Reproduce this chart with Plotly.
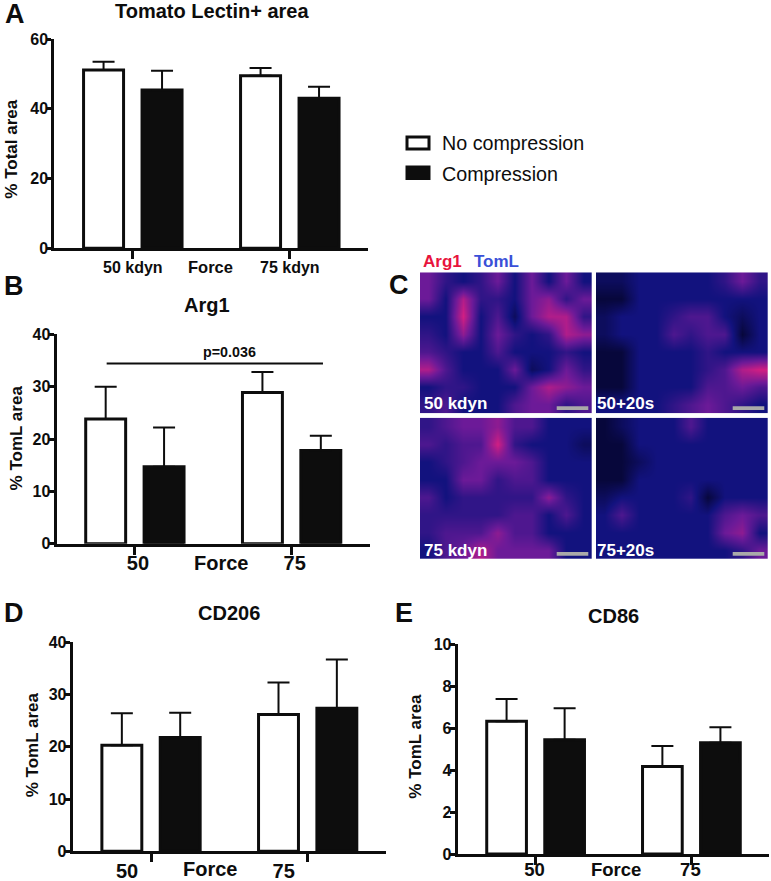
import plotly.graph_objects as go

W, H = 771, 881
FONT = "Liberation Sans"

series_names = ["No compression", "Compression"]
groups = [1, 2]

a_means = [[51.1, 49.5], [45.4, 43.0]]
a_errs = [[2.4, 2.2], [5.5, 3.3]]
a_ticks = ["50 kdyn", "75 kdyn"]

b_means = [[23.8, 28.9], [14.7, 17.8]]
b_errs = [[6.2, 3.9], [7.5, 2.8]]
num_ticks = ["50", "75"]

d_means = [[20.3, 26.2], [21.8, 27.4]]
d_errs = [[6.1, 6.1], [4.7, 9.3]]

e_means = [[6.33, 4.17], [5.45, 5.31]]
e_errs = [[1.06, 0.98], [1.5, 0.73]]

p_line_x = [0.82, 2.2]
p_line_y = [34.4, 34.4]

# Rough per-cell Arg1/TomL signal read from the micrographs (0 dark, 3 blue, 6 purple, 10 pink)
c_50 = [[6,4,3,4,6,3,6,3,6,3],[6,3,8,4,4,3,6,7,4,6],[3,3,9,3,5,2,6,8,8,4],[4,3,7,3,6,4,3,4,8,7],
        [5,4,3,3,5,3,3,3,4,3],[8,5,3,3,3,6,2,3,6,4],[3,4,4,3,3,3,6,8,7,6],[4,5,3,3,3,5,6,6,4,5]]
c_50s = [[2,2,3,3,3,3,3,4,6,4],[1,1,3,3,3,3,3,3,3,3],[2,3,3,3,4,5,5,3,2,3],[2,3,3,3,5,4,5,5,1,3],
         [1,1,3,3,3,3,4,3,3,3],[1,1,3,3,3,3,4,5,8,9],[1,1,3,3,3,3,5,5,6,5],[3,3,3,3,4,5,6,5,4,3]]
c_75 = [[4,5,6,6,7,5,5,3,3,3],[5,4,5,5,9,4,3,3,3,2],[3,4,5,6,6,6,5,3,3,3],[3,3,6,6,4,5,5,3,3,3],
        [5,3,4,4,4,4,4,7,4,3],[4,4,4,4,4,5,5,3,5,3],[4,5,5,5,7,5,5,3,3,3],[3,5,6,8,6,6,6,6,3,3]]
c_75s = [[1,2,3,3,3,5,3,3,3,3],[1,1,3,3,3,3,3,3,3,3],[1,1,2,3,3,3,3,3,3,3],[1,1,3,3,3,3,3,3,3,3],
         [2,3,3,3,3,4,1,3,3,3],[3,5,3,3,3,3,3,5,6,5],[3,3,3,3,3,3,3,6,7,3],[3,3,3,3,3,3,3,3,4,6]]

def px(x): return x / W
def py(y): return 1 - y / H

fig = go.Figure()
BLACK = "#0d0d0d"

panels = [
    dict(ax="", means=a_means, errs=a_errs, ticks=a_ticks, box=(54.3, 368.3, 39, 248.3), yr=[0, 60], dt=20, size=16, shift=0, off=-6),
    dict(ax="2", means=b_means, errs=b_errs, ticks=num_ticks, box=(56.5, 370, 334.3, 543.7), yr=[0, 40], dt=10, size=20, shift=3, off=-9),
    dict(ax="3", means=d_means, errs=d_errs, ticks=num_ticks, box=(72.7, 386, 642.3, 851.3), yr=[0, 40], dt=10, size=20, shift=-24, off=-8),
    dict(ax="4", means=e_means, errs=e_errs, ticks=num_ticks, box=(457.7, 769.3, 644.3, 854), yr=[0, 10], dt=2, size=18.5, shift=-1, off=-11),
]

layout = {}
for p in panels:
    for j, name in enumerate(series_names):
        fig.add_trace(go.Bar(
            x=groups, y=p["means"][j], name=name, xaxis="x" + p["ax"], yaxis="y" + p["ax"],
            marker=dict(color="white" if j == 0 else BLACK, line=dict(color=BLACK, width=3)),
            error_y=dict(type="data", symmetric=False, array=p["errs"][j], arrayminus=[0, 0],
                         color=BLACK, thickness=2, width=11),
            showlegend=False, cliponaxis=False, offsetgroup=str(j),
        ))
    x0, x1, yt, yb = p["box"]
    layout["xaxis" + p["ax"]] = dict(
        domain=[px(x0), px(x1)], range=[0.5, 2.5], anchor="y" + p["ax"],
        tickmode="array", tickvals=groups, ticktext=p["ticks"], ticks="outside", ticklen=8, tickwidth=3,
        tickcolor=BLACK, showline=True, linecolor=BLACK, linewidth=3, showgrid=False, zeroline=False,
        tickfont=dict(family=FONT, size=p["size"], color=BLACK, weight=700),
        ticklabelshift=p["shift"], ticklabelstandoff=p["off"],
    )
    layout["yaxis" + p["ax"]] = dict(
        domain=[py(yb), py(yt)], range=p["yr"], anchor="x" + p["ax"], dtick=p["dt"], tick0=0,
        ticks="outside", ticklen=5, tickwidth=3, tickcolor=BLACK, showline=True, linecolor=BLACK, linewidth=3,
        showgrid=False, zeroline=False, tickfont=dict(family=FONT, size=16, color=BLACK, weight=700),
        ticklabelstandoff=-5,
    )

fig.add_trace(go.Scatter(x=p_line_x, y=p_line_y, mode="lines", xaxis="x2", yaxis="y2",
                         line=dict(color=BLACK, width=2), showlegend=False))

# Panel C
scale = [[0, "#02021a"], [0.3, "#12127e"], [0.6, "#6c1a98"], [1, "#f5207c"]]
images = [
    (c_50, (420, 591.7, 272.3, 413.3), "5"),
    (c_50s, (596, 767.7, 272.3, 413.3), "6"),
    (c_75, (420, 591.7, 417.7, 559), "7"),
    (c_75s, (596, 767.7, 417.7, 559), "8"),
]
shapes = []
for z, (x0, x1, yt, yb), ax in images:
    fig.add_trace(go.Heatmap(z=z, xaxis="x" + ax, yaxis="y" + ax, colorscale=scale, zmin=0, zmax=10,
                             zsmooth="best", showscale=False, hoverinfo="skip"))
    layout["xaxis" + ax] = dict(domain=[px(x0), px(x1)], anchor="y" + ax, visible=False, range=[-0.5, 9.5])
    layout["yaxis" + ax] = dict(domain=[py(yb), py(yt)], anchor="x" + ax, visible=False, range=[7.5, -0.5])
    shapes.append(dict(type="rect", xref="paper", yref="paper", x0=px(x1 - 35), x1=px(x1 - 3.4),
                       y0=py(yb - 3.2), y1=py(yb - 7), fillcolor="#a9a9a9", line=dict(width=0)))

# Legend key
shapes.append(dict(type="rect", xref="paper", yref="paper", x0=px(407), x1=px(429), y0=py(149), y1=py(137),
                   fillcolor="white", line=dict(color=BLACK, width=3)))
shapes.append(dict(type="rect", xref="paper", yref="paper", x0=px(405.5), x1=px(430.5), y0=py(180), y1=py(165.5),
                   fillcolor=BLACK, line=dict(width=0)))

def note(text, x, y, size, bold=True, color=BLACK, anchor="center", angle=0):
    if anchor == "left":
        x -= 2
    return dict(text=f"<b>{text}</b>" if bold else text, x=px(x), y=py(y), xref="paper", yref="paper",
                showarrow=False, xanchor=anchor, yanchor="middle", textangle=angle,
                font=dict(family=FONT, size=size, color=color))

ann = [
    note("A", 4.5, 14, 27, anchor="left"), note("B", 4, 286, 27, anchor="left"), note("C", 389, 285, 27, anchor="left"),
    note("D", 4, 612.7, 27, anchor="left"), note("E", 395, 612.7, 27, anchor="left"),
    note("Tomato Lectin+ area", 212, 11.5, 20), note("Arg1", 207, 305, 20),
    note("CD206", 229, 612.7, 20), note("CD86", 613, 615.7, 20),
    note("% Total area", 10.7, 149, 17, angle=-90), note("% TomL area", 16.7, 437.7, 17, angle=-90),
    note("% TomL area", 32.3, 745, 17, angle=-90), note("% TomL area", 416, 746.7, 17, angle=-90),
    note("Force", 210.7, 267, 16.5), note("Force", 221, 563, 20), note("Force", 210, 868.5, 20), note("Force", 615.5, 869.5, 18.5),
    note("p=0.036", 229.7, 351.7, 14.3),
    note("No compression", 442, 143.5, 19.7, bold=False, anchor="left"),
    note("Compression", 442, 173.5, 19.7, bold=False, anchor="left"),
    note("Arg1", 422.7, 261.7, 17, color="#e8143c", anchor="left"),
    note("TomL", 474, 261.7, 17, color="#3a50d8", anchor="left"),
    note("50 kdyn", 424.3, 403, 17, color="white", anchor="left"),
    note("50+20s", 597.3, 403, 17, color="white", anchor="left"),
    note("75 kdyn", 424.3, 550.7, 17, color="white", anchor="left"),
    note("75+20s", 597.3, 550.7, 17, color="white", anchor="left"),
]

fig.update_layout(
    width=W, height=H, margin=dict(l=0, r=0, t=0, b=0, autoexpand=False), paper_bgcolor="white", plot_bgcolor="white",
    barmode="group", bargap=0.255, bargroupgap=0.316, showlegend=False,
    annotations=ann, shapes=shapes, **layout,
)

fig.write_html("out.html", config=dict(displayModeBar=False),
               post_script="document.body.style.margin='0';document.documentElement.style.overflow='hidden';")
